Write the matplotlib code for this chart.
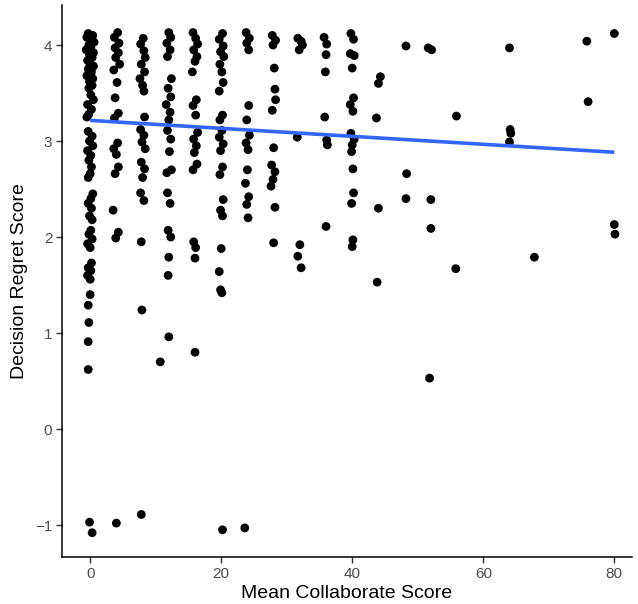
import numpy as np
import matplotlib
matplotlib.use("Agg")
import matplotlib.pyplot as plt

plt.rcParams['font.family'] = ['Liberation Sans', 'DejaVu Sans']

# ---- data: Decision regret score by mean collaborate score (jittered columns) ----
regret_0 = [4.12, 4.10, 4.08, 4.05, 4.03, 4.00, 3.97, 3.95, 3.92, 3.90,
            3.87, 3.84, 3.80, 3.78, 3.75, 3.72, 3.68, 3.65, 3.62, 3.58,
            3.55, 3.48, 3.43, 3.38, 3.33, 3.28, 3.25, 3.10, 3.05, 3.00,
            2.95, 2.90, 2.85, 2.80, 2.73, 2.66, 2.62, 2.45, 2.40, 2.35,
            2.30, 2.22, 2.18, 2.07, 2.03, 1.98, 1.93, 1.89, 1.73, 1.68,
            1.65, 1.60, 1.56, 1.40, 1.29, 1.11, 0.91, 0.62, -0.97, -1.08]
collab_0 = [-0.3, 0.4, -0.5, 0.2, 0.6, -0.2, 0.1, -0.6, 0.5, -0.1,
            0.3, -0.4, 0.0, 0.5, -0.3, 0.2, -0.5, 0.4, -0.1, 0.3,
            -0.2, 0.1, 0.5, -0.4, 0.2, -0.2, -0.5, -0.3, 0.3, -0.1,
            0.4, -0.4, 0.1, -0.2, 0.2, 0.0, -0.3, 0.4, 0.1, -0.3,
            0.2, -0.1, 0.3, 0.1, -0.2, 0.3, -0.4, 0.0, 0.2, -0.3,
            0.1, -0.4, 0.0, 0.0, -0.3, -0.2, -0.3, -0.3, -0.1, 0.3]

regret_4 = [4.13, 4.08, 4.02, 3.97, 3.92, 3.87, 3.80, 3.74, 3.61, 3.45,
            3.29, 3.24, 2.98, 2.92, 2.86, 2.73, 2.66, 2.28, 2.05, 1.99, -0.98]
collab_4 = [4.2, 3.7, 4.4, 3.8, 4.3, 3.9, 4.5, 3.6, 4.1, 3.8,
            4.3, 3.7, 4.2, 3.6, 4.0, 4.3, 3.8, 3.5, 4.3, 3.9, 4.0]

regret_8 = [4.07, 4.01, 3.94, 3.87, 3.80, 3.72, 3.65, 3.58, 3.52, 3.25,
            3.12, 3.06, 2.99, 2.92, 2.78, 2.71, 2.62, 2.46, 2.38, 1.95, 1.24, -0.89]
collab_8 = [8.1, 7.7, 8.2, 8.4, 7.8, 8.3, 7.6, 8.0, 8.2, 8.3,
            7.7, 8.2, 7.9, 8.4, 7.8, 8.3, 8.0, 7.7, 8.2, 7.8, 7.9, 7.8]

regret_12 = [4.13, 4.08, 4.02, 3.95, 3.88, 3.65, 3.55, 3.46, 3.38, 3.30,
             3.22, 3.11, 3.02, 2.89, 2.70, 2.67, 2.46, 2.35, 2.07, 2.00,
             1.79, 1.60, 0.96, 0.70]
collab_12 = [12.0, 12.3, 11.7, 12.2, 11.8, 12.4, 11.9, 12.3, 11.6, 12.2,
             12.0, 11.8, 12.3, 12.1, 12.4, 11.7, 11.8, 12.2, 11.9, 12.3,
             12.0, 11.9, 12.0, 10.7]

regret_16 = [4.13, 4.07, 4.01, 3.95, 3.88, 3.83, 3.72, 3.43, 3.37, 3.27,
             3.09, 3.02, 2.95, 2.88, 2.76, 2.70, 1.95, 1.89, 1.78, 0.80]
collab_16 = [15.7, 16.1, 16.4, 15.8, 16.3, 16.0, 15.6, 16.2, 15.7, 16.1,
             16.4, 15.8, 16.2, 15.9, 16.3, 15.7, 15.8, 16.1, 16.0, 16.0]

regret_20 = [4.12, 4.06, 3.99, 3.93, 3.88, 3.80, 3.72, 3.61, 3.52, 3.27,
             3.22, 3.11, 3.04, 2.97, 2.90, 2.73, 2.65, 2.39, 2.28, 2.22,
             1.88, 1.64, 1.45, 1.42, -1.05]
collab_20 = [20.2, 19.7, 20.3, 19.9, 20.4, 19.8, 20.1, 20.3, 19.7, 20.2,
             19.8, 20.1, 19.7, 20.3, 19.9, 20.2, 19.8, 20.3, 19.9, 20.2,
             20.0, 19.7, 19.9, 20.1, 20.2]

regret_24 = [4.13, 4.07, 4.02, 3.95, 3.37, 3.22, 3.06, 2.98, 2.91, 2.70,
             2.56, 2.42, 2.34, 2.20, -1.03]
collab_24 = [23.8, 24.3, 23.9, 24.2, 24.2, 23.9, 24.3, 23.8, 24.1, 24.0,
             23.7, 24.2, 23.9, 24.1, 23.6]

regret_28 = [4.10, 4.05, 4.00, 3.76, 3.54, 3.43, 3.32, 2.93, 2.75, 2.68,
             2.60, 2.53, 2.31, 1.94]
collab_28 = [27.8, 28.3, 27.9, 28.1, 28.2, 28.3, 27.8, 28.0, 27.7, 28.2,
             27.9, 27.6, 28.2, 28.0]

regret_32 = [4.07, 4.04, 4.00, 3.95, 3.04, 1.92, 1.80, 1.68]
collab_32 = [31.7, 32.2, 32.4, 31.9, 31.6, 32.0, 31.7, 32.2]

regret_36 = [4.08, 4.01, 3.90, 3.72, 3.25, 3.01, 2.96, 2.11]
collab_36 = [35.7, 36.1, 36.0, 35.9, 35.8, 36.1, 36.2, 36.0]

regret_40 = [4.12, 4.06, 3.91, 3.89, 3.76, 3.45, 3.38, 3.31, 3.08, 3.02,
             2.96, 2.89, 2.71, 2.46, 2.35, 1.97, 1.90]
collab_40 = [39.8, 40.2, 39.7, 40.3, 40.0, 40.2, 39.7, 40.1, 39.8, 40.3,
             40.0, 39.9, 40.1, 40.2, 39.9, 40.1, 40.0]

regret_hi = [3.67, 3.60, 3.24, 2.30, 1.53,
             3.99, 2.66, 2.40,
             3.97, 3.95, 2.39, 2.09, 0.53,
             3.26, 1.67,
             3.97, 3.12, 3.08, 2.99,
             1.79,
             4.04, 3.41,
             4.12, 2.13, 2.03]
collab_hi = [44.3, 44.0, 43.7, 44.0, 43.8,
             48.2, 48.3, 48.2,
             51.6, 52.1, 52.0, 52.0, 51.8,
             55.9, 55.8,
             64.0, 64.1, 64.2, 64.0,
             67.8,
             75.8, 76.0,
             80.0, 80.0, 80.1]

# linear fit (geom_smooth, method = "lm")
fit_range = [0, 80]
fit_intercept = 3.215
fit_slope = -0.00415

x_ticks = [0, 20, 40, 60, 80]
y_ticks = [-1, 0, 1, 2, 3, 4]

collab_groups = [collab_0, collab_4, collab_8, collab_12, collab_16, collab_20,
                 collab_24, collab_28, collab_32, collab_36, collab_40, collab_hi]
regret_groups = [regret_0, regret_4, regret_8, regret_12, regret_16, regret_20,
                 regret_24, regret_28, regret_32, regret_36, regret_40, regret_hi]
for a, b in zip(collab_groups, regret_groups):
    assert len(a) == len(b), (len(a), len(b))

collab = np.concatenate([np.array(c, dtype=float) for c in collab_groups])
regret = np.concatenate([np.array(r, dtype=float) for r in regret_groups])

# ---- figure ----
W, H = 638, 604
fig = plt.figure(figsize=(W / 100, H / 100), dpi=100)
ax = fig.add_axes([62 / W, 1 - 557 / H, (632 - 62) / W, (557 - 5) / H])

ax.scatter(collab, regret, s=40, color='black', edgecolors='none', zorder=2)

fx = np.array(fit_range, dtype=float)
ax.plot(fx, fit_intercept + fit_slope * fx, color='#3366FF', lw=2.6, zorder=3,
        solid_capstyle='butt')

ax.set_xlim(-4.3, 82.7)
ax.set_ylim(-1.333, 4.417)
ax.set_xticks(x_ticks)
ax.set_yticks(y_ticks)
ax.set_xticklabels([str(t) for t in x_ticks])
ax.set_yticklabels([str(t) if t >= 0 else '\u22121' for t in y_ticks])

for s in ['top', 'right']:
    ax.spines[s].set_visible(False)
for s in ['left', 'bottom']:
    ax.spines[s].set_linewidth(1.1)
    ax.spines[s].set_color('black')

ax.tick_params(axis='both', direction='out', length=4, width=1, color='#333333',
               labelsize=11, labelcolor='#4D4D4D', pad=3)

ax.set_xlabel('Mean Collaborate Score', fontsize=14, labelpad=3)
ax.set_ylabel('Decision Regret Score', fontsize=14, labelpad=5)

fig.savefig('out.png', dpi=100, facecolor='white')
